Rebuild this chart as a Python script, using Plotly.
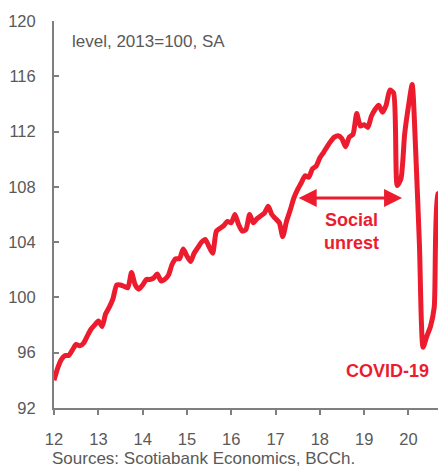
import pandas as pd
import plotly.graph_objects as go

# Actividad economica (IMACEC), nivel mensual, 2013=100, desestacionalizado
meses = pd.date_range("2012-01-01", periods=108, freq="MS")
imacec = [
    94.0, 94.9, 95.5, 95.8, 95.8, 96.2, 96.6, 96.5, 96.7, 97.2, 97.7, 98.0,      # 2012
    98.3, 97.9, 98.8, 99.3, 99.9, 100.9, 100.9, 100.8, 100.7, 101.8, 100.9, 100.6,  # 2013
    100.9, 101.3, 101.3, 101.4, 101.7, 101.2, 101.3, 101.6, 102.4, 102.8, 102.8, 103.5,  # 2014
    103.0, 102.6, 103.2, 103.6, 104.0, 104.2, 103.7, 103.2, 104.8, 105.0, 105.2, 105.5,  # 2015
    105.4, 106.0, 105.3, 104.8, 104.9, 106.0, 105.4, 105.7, 105.9, 106.1, 106.6, 106.0,  # 2016
    105.7, 105.4, 104.4, 105.5, 106.3, 107.2, 107.8, 108.3, 108.8, 108.7, 109.3, 109.5,  # 2017
    110.1, 110.5, 110.9, 111.3, 111.6, 111.7, 111.5, 110.9, 111.6, 111.8, 113.3, 112.4,  # 2018
    112.5, 112.3, 113.1, 113.6, 113.9, 113.4, 113.9, 115.0, 114.8, 108.1, 108.6, 111.8,  # 2019
    113.8, 115.4, 110.6, 103.8, 96.4, 97.2, 97.9, 99.3, 107.5, 107.6, 110.5, 113.5,  # 2020
]

anios = ["2012-01-01", "2013-01-01", "2014-01-01", "2015-01-01", "2016-01-01",
         "2017-01-01", "2018-01-01", "2019-01-01", "2020-01-01"]
etiquetas_x = ["12", "13", "14", "15", "16", "17", "18", "19", "20"]
valores_y = [92, 96, 100, 104, 108, 112, 116, 120]

rojo = "#EC1C2E"
gris = "#595959"
fuente = "Liberation Sans, Arial, sans-serif"

fig = go.Figure()
fig.add_trace(go.Scatter(x=meses, y=imacec, mode="lines",
                         line=dict(color=rojo, width=5, shape="spline", smoothing=0.6),
                         showlegend=False, hoverinfo="skip"))

# flecha doble del estallido social
fig.add_annotation(x="2019-11-10", y=107.2, ax="2017-06-28", ay=107.2,
                   xref="x", yref="y", axref="x", ayref="y", text="",
                   showarrow=True, arrowside="end+start", arrowhead=2,
                   arrowsize=1.2, arrowwidth=3, arrowcolor=rojo, standoff=0, startstandoff=0)
fig.add_annotation(x="2018-09-20", y=104.8, xref="x", yref="y", text="<b>Social<br>unrest</b>",
                   showarrow=False, font=dict(family=fuente, size=18, color=rojo), align="center")
fig.add_annotation(x="2019-07-12", y=94.7, xref="x", yref="y", text="<b>COVID-19</b>",
                   showarrow=False, font=dict(family=fuente, size=18, color=rojo))
fig.add_annotation(x=0.041, y=118.55, xref="paper", yref="y", text="level, 2013=100, SA",
                   showarrow=False, xanchor="left", yanchor="middle",
                   font=dict(family=fuente, size=17, color=gris))
fig.add_annotation(x=-0.01, y=-0.102, xref="paper", yref="paper",
                   text="Sources: Scotiabank Economics, BCCh.",
                   showarrow=False, xanchor="left", yanchor="top",
                   font=dict(family=fuente, size=17, color=gris))

# la pagina tiene un margen de 8 px, se compensa en el tamano
fig.update_layout(
    width=438, height=460,
    margin=dict(l=46, r=0, t=13, b=60),
    paper_bgcolor="white", plot_bgcolor="white",
    font=dict(family=fuente, size=16.5, color=gris),
    xaxis=dict(range=["2012-01-01", "2020-11-06"], tickvals=anios, ticktext=etiquetas_x,
               showgrid=False, zeroline=False, showline=True, linecolor="#7F7F7F", linewidth=2,
               ticks="outside", ticklen=5, tickwidth=1.5, tickcolor="#7F7F7F",
               ticklabelstandoff=10, automargin=False),
    yaxis=dict(range=[92, 120], tickvals=valores_y, showgrid=False, zeroline=False,
               showline=True, linecolor="#7F7F7F", linewidth=2,
               ticks="inside", ticklen=5, tickwidth=1.5, tickcolor="#7F7F7F",
               ticklabelstandoff=13, automargin=False),
)

fig.write_html("out.html")
